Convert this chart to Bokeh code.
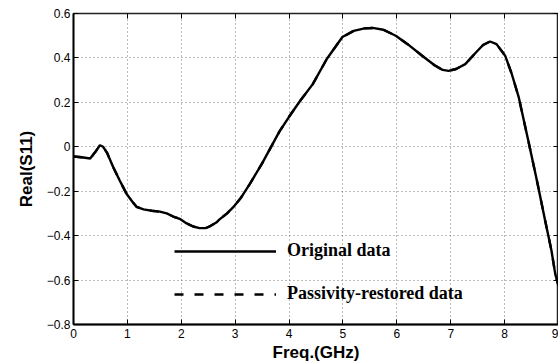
from bokeh.plotting import figure
from bokeh.models import LinearAxis, FixedTicker, Legend, LegendItem
from bokeh.embed import file_html
from bokeh.resources import INLINE

# ---- data ----
freq_ghz = [0.00, 0.15, 0.31, 0.40, 0.49, 0.55, 0.62, 0.74, 0.86, 0.99,
            1.10, 1.17, 1.30, 1.45, 1.60, 1.73, 1.85, 1.97, 2.10, 2.22,
            2.34, 2.45, 2.53, 2.65, 2.71, 2.85, 2.96, 3.10, 3.27, 3.50,
            3.82, 4.00, 4.20, 4.44, 4.70, 4.99, 5.20, 5.40, 5.55, 5.75,
            5.98, 6.20, 6.47, 6.70, 6.85, 6.96, 7.10, 7.27, 7.45, 7.60,
            7.73, 7.85, 8.01, 8.13, 8.26, 8.44, 8.60, 8.75, 8.87, 8.94, 9.00]
real_original = [-0.044, -0.047, -0.053, -0.025, 0.007, 0.000, -0.026, -0.093, -0.153, -0.214,
                 -0.250, -0.270, -0.282, -0.288, -0.292, -0.300, -0.314, -0.324, -0.345, -0.359,
                 -0.366, -0.366, -0.358, -0.341, -0.327, -0.300, -0.273, -0.232, -0.168, -0.075,
                 0.068, 0.135, 0.205, 0.282, 0.395, 0.494, 0.522, 0.533, 0.535, 0.527,
                 0.500, 0.462, 0.410, 0.367, 0.346, 0.342, 0.350, 0.372, 0.420, 0.458,
                 0.474, 0.462, 0.410, 0.330, 0.225, 0.027, -0.153, -0.330, -0.468, -0.573, -0.625]
real_restored = real_original[:]  # restored curve coincides with original in the picture

x_ticks = [0, 1, 2, 3, 4, 5, 6, 7, 8, 9]
y_ticks = [-0.8, -0.6, -0.4, -0.2, 0.0, 0.2, 0.4, 0.6]
y_tick_labels = {-0.8: "\u22120.8", -0.6: "\u22120.6", -0.4: "\u22120.4", -0.2: "\u22120.2",
                 0.0: "0", 0.2: "0.2", 0.4: "0.4", 0.6: "0.6"}
legend_labels = ["Original data", "Passivity-restored data"]

p = figure(frame_width=485, frame_height=311, output_backend="svg", toolbar_location=None,
           x_range=(0, 9), y_range=(-0.8, 0.6),
           min_border_left=73, min_border_top=13, min_border_bottom=38, min_border_right=0)

p.outline_line_color = "#222222"
p.outline_line_width = 1.5
p.background_fill_color = "white"
p.border_fill_color = "white"

r1 = p.line(freq_ghz, real_original, line_color="black", line_width=2.4)
r2 = p.line(freq_ghz, real_restored, line_color="black", line_width=2.4, line_dash="9 11")

xa = p.xaxis[0]
ya = p.yaxis[0]
xa.ticker = FixedTicker(ticks=x_ticks)
ya.ticker = FixedTicker(ticks=y_ticks)
ya.major_label_overrides = y_tick_labels
for ax in (xa, ya):
    ax.major_tick_in = 5
    ax.major_tick_out = 0
    ax.minor_tick_line_color = None
    ax.axis_line_width = 1.8
    ax.axis_line_color = "black"
    ax.major_tick_line_color = "black"
    ax.major_label_text_font = "Liberation Sans"
    ax.major_label_text_font_size = "12px"
    ax.major_label_text_color = "black"
    ax.axis_label_text_font = "Liberation Sans"
    ax.axis_label_text_font_style = "bold"
    ax.axis_label_text_font_size = "17px"
    ax.axis_label_text_color = "black"

xa.axis_label = "Freq.(GHz)"
ya.axis_label = "Real(S11)"
xa.major_label_standoff = 4
xa.axis_label_standoff = 2
ya.major_label_standoff = 3
ya.axis_label_standoff = 8

# box ticks on top and right (no labels)
for side in ("above", "right"):
    ticks = x_ticks if side == "above" else y_ticks
    ax = LinearAxis(ticker=FixedTicker(ticks=ticks))
    ax.major_label_overrides = {t: "" for t in ticks}
    ax.major_tick_in = 5
    ax.major_tick_out = 0
    ax.minor_tick_line_color = None
    ax.axis_line_color = None
    ax.major_label_standoff = 0
    p.add_layout(ax, side)

for g in (p.xgrid[0], p.ygrid[0]):
    g.grid_line_color = "#777777"
    g.grid_line_dash = "1 3"
    g.grid_line_width = 1

legend = Legend(items=[LegendItem(label=legend_labels[0], renderers=[r1]),
                       LegendItem(label=legend_labels[1], renderers=[r2])],
                location=(101, 20))
legend.border_line_color = None
legend.background_fill_alpha = 0
legend.padding = 0
legend.margin = 0
legend.glyph_width = 102
legend.glyph_height = 20
legend.label_height = 20
legend.spacing = 22
legend.label_standoff = 11
legend.label_text_font = "Liberation Serif"
legend.label_text_font_style = "bold"
legend.label_text_font_size = "18px"
legend.label_text_color = "black"
p.add_layout(legend, "center")

open("out.html", "w").write(file_html(p, INLINE))
